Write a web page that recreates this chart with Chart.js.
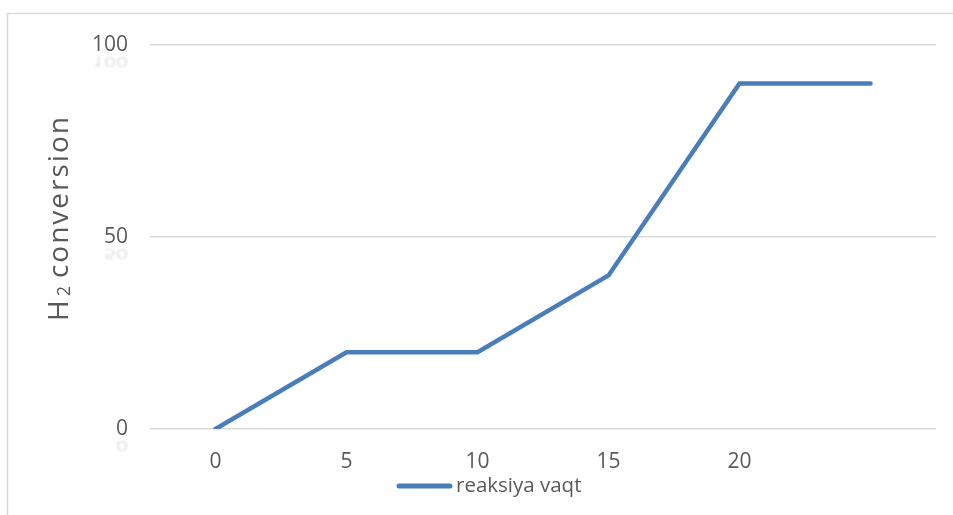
<!DOCTYPE html>
<html>
<head>
<meta charset="utf-8">
<script src="https://cdn.jsdelivr.net/npm/chart.js@4.4.1/dist/chart.umd.min.js"></script>
<style>
  html, body { margin: 0; padding: 0; background: #ffffff; }
  #wrap { width: 953px; height: 515px; }
</style>
</head>
<body>
<div id="wrap"><canvas id="c" width="953" height="515"></canvas></div>
<script>
// reaction time (x) and hydrogen conversion (y)
const categories = ['0', '5', '10', '15', '20', ''];
const conversion = [0, 20, 20, 40, 90, 90];
const yTicks = [0, 50, 100];
const seriesLabel = 'reaksiya vaqt';

const FONT = "'Open Sans', 'Liberation Sans', sans-serif";
const TEXT = '#595959';
const LINE = '#4a7ebb';
const GRID = '#d9d9d9';
const TICK_SIZE = 21;

// outer frame of the chart object
const framePlugin = {
  id: 'frame',
  beforeDraw(chart) {
    const ctx = chart.ctx;
    ctx.save();
    ctx.fillStyle = '#ffffff';
    ctx.fillRect(0, 0, chart.width, chart.height);
    ctx.strokeStyle = GRID;
    ctx.lineWidth = 1.5;
    ctx.beginPath();
    ctx.moveTo(7.5, chart.height + 5);
    ctx.lineTo(7.5, 13.5);
    ctx.lineTo(chart.width + 5, 13.5);
    ctx.stroke();
    ctx.restore();
  }
};

// faint mirrored echo under each value label
const echoPlugin = {
  id: 'echo',
  afterDraw(chart) {
    const ctx = chart.ctx;
    const y = chart.scales.y;
    ctx.save();
    ctx.font = TICK_SIZE + 'px ' + FONT;
    ctx.fillStyle = TEXT;
    ctx.globalAlpha = 0.2;
    ctx.filter = 'blur(1px)';
    ctx.textAlign = 'right';
    ctx.textBaseline = 'alphabetic';
    yTicks.forEach(v => {
      const py = y.getPixelForValue(v);
      const base = py + 8;
      ctx.save();
      ctx.translate(chart.chartArea.left - 22, base + 4);
      ctx.scale(1, -0.7);
      ctx.fillText(String(v), 0, 0);
      ctx.restore();
    });
    ctx.restore();
  }
};

// y-axis title with a subscript, and the series key under the axis
const textPlugin = {
  id: 'texts',
  afterDraw(chart) {
    const ctx = chart.ctx;
    ctx.save();
    ctx.fillStyle = TEXT;
    ctx.textBaseline = 'alphabetic';
    ctx.textAlign = 'left';
    ctx.translate(68, 321);
    ctx.rotate(-Math.PI / 2);
    const big = '28px ' + FONT;
    const small = '18px ' + FONT;
    ctx.font = big;
    ctx.fillText('H', 0, 0);
    let x = ctx.measureText('H').width + 4;
    ctx.font = small;
    ctx.fillText('2', x, 2);
    x += ctx.measureText('2').width + 8;
    ctx.font = big;
    ctx.letterSpacing = '2px';
    ctx.fillText('conversion', x, 0);
    ctx.restore();

    // series key
    const ds = chart.data.datasets[0];
    ctx.save();
    const kx = 397, ky = 486;
    ctx.strokeStyle = ds.borderColor;
    ctx.lineWidth = 5;
    ctx.lineCap = 'round';
    ctx.beginPath();
    ctx.moveTo(kx + 2, ky);
    ctx.lineTo(kx + 53, ky);
    ctx.stroke();
    ctx.fillStyle = TEXT;
    ctx.font = '20.5px ' + FONT;
    ctx.textBaseline = 'middle';
    ctx.textAlign = 'left';
    ctx.fillText(ds.label, kx + 59, ky);
    ctx.restore();
  }
};

new Chart(document.getElementById('c'), {
  type: 'line',
  data: {
    labels: categories,
    datasets: [{
      label: seriesLabel,
      data: conversion,
      borderColor: LINE,
      backgroundColor: LINE,
      borderWidth: 4.5,
      borderCapStyle: 'round',
      borderJoinStyle: 'miter',
      pointRadius: 0,
      pointHoverRadius: 0,
      tension: 0,
      fill: false
    }]
  },
  options: {
    responsive: false,
    animation: false,
    events: [],
    layout: { padding: { left: 0, right: 17, top: 45, bottom: 0 } },
    plugins: {
      legend: { display: false },
      tooltip: { enabled: false },
      title: { display: false }
    },
    scales: {
      x: {
        offset: true,
        grid: { display: false, drawTicks: false },
        border: { display: false },
        ticks: {
          color: TEXT,
          font: { family: FONT, size: TICK_SIZE },
          padding: 20,
          maxRotation: 0,
          autoSkip: false
        },
        afterFit(scale) { scale.height = 86; }
      },
      y: {
        min: 0,
        max: 100,
        afterBuildTicks(scale) { scale.ticks = yTicks.map(v => ({ value: v })); },
        grid: { color: GRID, lineWidth: 1.5, drawTicks: false },
        border: { display: false },
        ticks: {
          color: TEXT,
          font: { family: FONT, size: TICK_SIZE },
          padding: 22
        },
        afterFit(scale) { scale.width = 150; }
      }
    }
  },
  plugins: [framePlugin, echoPlugin, textPlugin]
});
</script>
</body>
</html>
